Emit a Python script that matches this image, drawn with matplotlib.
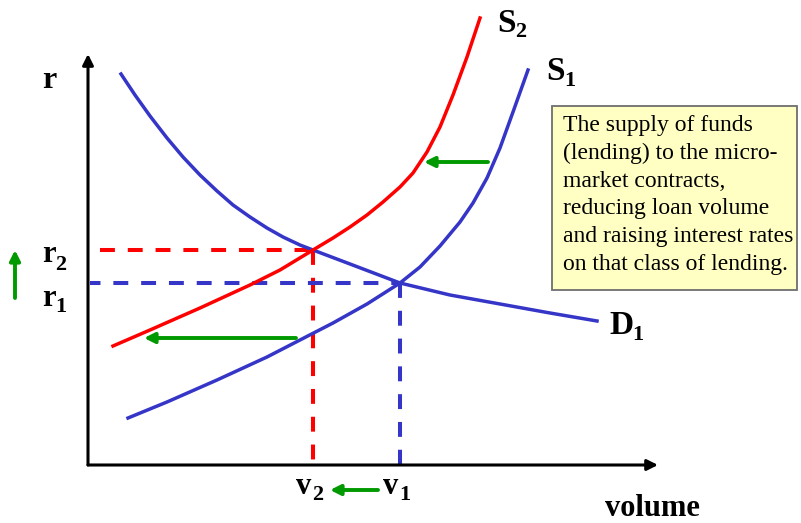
import matplotlib.pyplot as plt
from matplotlib.patches import Rectangle

# curve points (x = volume, y = r), origin at the axis corner
d1_x = [33, 47, 62, 79, 95, 112, 129, 145, 162, 179, 195, 212, 225, 262, 312, 362, 412, 462, 509]
d1_y = [391, 370, 349, 327, 308, 290, 274, 260, 248, 237, 228, 220, 215, 201, 182, 170, 161, 152, 144]

s1_x = [40, 79, 129, 179, 212, 245, 279, 312, 332, 352, 372, 385, 399, 412, 425, 440]
s1_y = [47, 63, 85, 108, 125, 142, 161, 182, 198, 219, 243, 262, 287, 317, 353, 395]

s2_x = [25, 62, 112, 162, 192, 225, 245, 262, 279, 295, 312, 325, 339, 352, 365, 379, 392]
s2_y = [119, 135, 157, 180, 195, 215, 227, 238, 250, 263, 278, 292, 313, 338, 370, 408, 447]

r1, r2 = 182, 215
v1, v2 = 312, 225

blue = "#3535C8"
red = "#FF0000"
green = "#009900"
serif = "Liberation Serif"

fig = plt.figure(figsize=(8.01, 5.23), dpi=100)
ax = fig.add_axes([0, 0, 1, 1])
ax.set_xlim(-88, 713)
ax.set_ylim(-58, 465)
ax.axis("off")

# axes with arrow heads
ax.annotate("", xy=(0, 411), xytext=(0, 0),
            arrowprops=dict(arrowstyle="-|>", color="black", lw=2.2, mutation_scale=16,
                            shrinkA=0, shrinkB=0))
ax.annotate("", xy=(570, 0), xytext=(0, 0),
            arrowprops=dict(arrowstyle="-|>", color="black", lw=2.2, mutation_scale=16,
                            shrinkA=0, shrinkB=0))

# dashed guides
dash = (0, (3.7, 3.2))
ax.plot([12, v2], [r2, r2], color=red, lw=2.9, ls=dash)
ax.plot([v2, v2], [r2, 0], color=red, lw=2.9, ls=dash)
ax.plot([2, v1], [r1, r1], color=blue, lw=2.9, ls=(8, (3.7, 3.2)))
ax.plot([v1, v1], [r1, 0], color=blue, lw=2.9, ls=dash)

# curves
ax.plot(d1_x, d1_y, color=blue, lw=2.5, solid_joinstyle="round")
ax.plot(s1_x, s1_y, color=blue, lw=2.5, solid_joinstyle="round")
ax.plot(s2_x, s2_y, color=red, lw=2.5, solid_joinstyle="round")

# green shift arrows
arrow = dict(arrowstyle="-|>", color=green, lw=2.8, mutation_scale=15, shrinkA=0, shrinkB=0)
ax.annotate("", xy=(56, 127), xytext=(208, 127), arrowprops=arrow)
ax.annotate("", xy=(336, 303), xytext=(400, 303), arrowprops=arrow)
ax.annotate("", xy=(242, -25), xytext=(290, -25), arrowprops=arrow)
ax.annotate("", xy=(-73, 215), xytext=(-73, 167), arrowprops=arrow)

# labels
bold = dict(family=serif, weight="bold", color="black")
ax.text(-39, 384, "r", fontsize=23, ha="center", va="center", **bold)
ax.text(-39, 210, "r", fontsize=22, ha="center", va="center", **bold)
ax.text(-27, 200, "2", fontsize=16, ha="center", va="center", **bold)
ax.text(-39, 167, "r", fontsize=22, ha="center", va="center", **bold)
ax.text(-27, 158, "1", fontsize=16, ha="center", va="center", **bold)

ax.text(v2 - 9, -22, "v", fontsize=22, ha="center", va="center", **bold)
ax.text(v2 + 5, -30, "2", fontsize=16, ha="center", va="center", **bold)
ax.text(v1 - 9, -22, "v", fontsize=22, ha="center", va="center", **bold)
ax.text(v1 + 5, -30, "1", fontsize=16, ha="center", va="center", **bold)
ax.text(564, -44, "volume", fontsize=22, ha="center", va="center", **bold)

ax.text(409, 442, "S", fontsize=24, ha="left", va="center", **bold)
ax.text(427, 433, "2", fontsize=16, ha="left", va="center", **bold)
ax.text(458, 393, "S", fontsize=24, ha="left", va="center", **bold)
ax.text(476, 384, "1", fontsize=16, ha="left", va="center", **bold)
ax.text(521, 139, "D", fontsize=24, ha="left", va="center", **bold)
ax.text(544, 130, "1", fontsize=16, ha="left", va="center", **bold)

# note box
ax.add_patch(Rectangle((464, 175), 245, 184, fc="#FFFFC4", ec="#6E6E6E", lw=1.3))
note = ("The supply of funds\n(lending) to the micro-\nmarket contracts,\n"
        "reducing loan volume\nand raising interest rates\non that class of lending.")
ax.text(475, 350, note, fontsize=17, family=serif, ha="left", va="top", linespacing=1.42)

fig.savefig("out.png", dpi=100)
